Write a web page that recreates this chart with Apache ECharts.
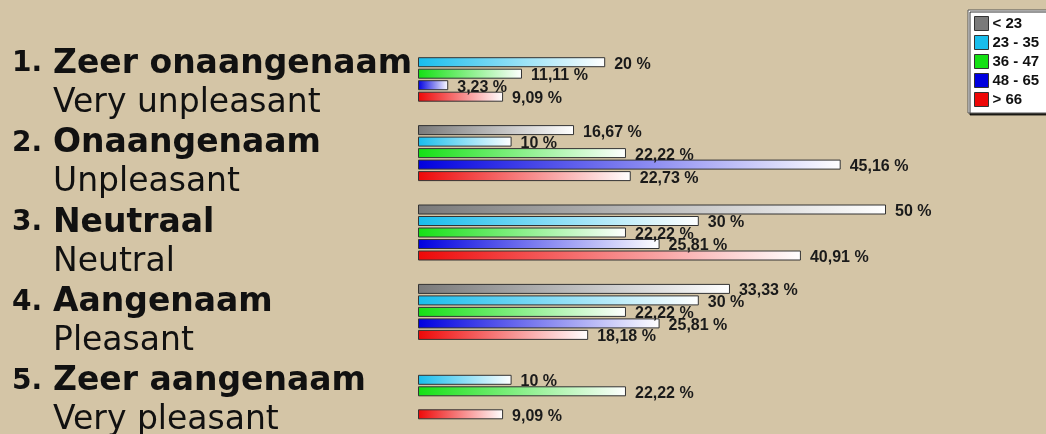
<!DOCTYPE html>
<html>
<head>
<meta charset="utf-8">
<script src="https://cdn.jsdelivr.net/npm/echarts@6/dist/echarts.min.js"></script>
<style>
  html, body { margin: 0; padding: 0; background: #d4c5a6; }
  #chart { width: 1046px; height: 434px; }
</style>
</head>
<body>
<div id="chart"></div>
<script>
// answers (Dutch + English)
var categories = ['Zeer onaangenaam', 'Onaangenaam', 'Neutraal', 'Aangenaam', 'Zeer aangenaam'];
var english = ['Very unpleasant', 'Unpleasant', 'Neutral', 'Pleasant', 'Very pleasant'];

// age groups
var groups = ['< 23', '23 - 35', '36 - 47', '48 - 65', '> 66'];
var colors = ['#7a7a7a', '#18bdec', '#14e014', '#0000e0', '#ee0808'];

// percentages per age group, '-' = no bar
var lt23 = ['-', 16.67, 50, 33.33, '-'];
var g23_35 = [20, 10, 30, 30, 10];
var g36_47 = [11.11, 22.22, 22.22, 22.22, 22.22];
var g48_65 = [3.23, 45.16, 25.81, 25.81, '-'];
var gt66 = [9.09, 22.73, 40.91, 18.18, 9.09];

var seriesData = [lt23, g23_35, g36_47, g48_65, gt66];

var myChart = echarts.init(document.getElementById('chart'));

var fmt = function (v) {
    var s = (Math.round(v * 100) / 100).toString();
    return s.replace('.', ',') + ' %';
};

var series = [];
for (var i = 0; i < groups.length; i++) {
    series.push({
        name: groups[i],
        type: 'bar',
        data: seriesData[i],
        barWidth: 10,
        barGap: '15%',
        itemStyle: {
            color: new echarts.graphic.LinearGradient(0, 0, 1, 0, [
                {offset: 0, color: colors[i]},
                {offset: 1, color: '#ffffff'}
            ]),
            borderColor: '#333',
            borderWidth: 1
        },
        label: {
            show: true,
            position: 'right',
            distance: 9,
            offset: [0, 2],
            color: '#1a1a1a',
            fontFamily: 'Liberation Sans, Arial',
            fontWeight: 'bold',
            fontSize: 16,
            formatter: function (p) { return fmt(p.value); }
        }
    });
}

var option = {
    backgroundColor: '#d4c5a6',
    animation: false,
    grid: {
        left: 418,
        width: 468,
        top: 34,
        height: 397,
        outerBoundsMode: 'none'
    },
    legend: {
        orient: 'vertical',
        left: 968,
        top: 10,
        icon: 'rect',
        itemWidth: 14,
        itemHeight: 14,
        itemGap: 4,
        padding: [6, 30, 6, 6],
        backgroundColor: '#ffffff',
        borderColor: '#555',
        borderWidth: 1,
        shadowColor: 'rgba(0,0,0,0.8)',
        shadowBlur: 0,
        shadowOffsetX: 2,
        shadowOffsetY: 2,
        textStyle: {
            color: '#111',
            fontFamily: 'Liberation Sans, Arial',
            fontWeight: 'bold',
            fontSize: 15,
            padding: [0, 0, 0, -1]
        },
        data: groups.map(function (g, i) {
            return {name: g, itemStyle: {color: colors[i], borderColor: '#333', borderWidth: 1}};
        })
    },
    xAxis: {
        type: 'value',
        min: 0,
        max: 50,
        show: false
    },
    yAxis: {
        type: 'category',
        inverse: true,
        data: categories,
        axisLine: {show: false},
        axisTick: {show: false},
        splitLine: {show: false},
        axisLabel: {
            align: 'left',
            margin: 406,
            padding: [20, 0, 0, 0],
            formatter: function (value, index) {
                return '{n|' + (index + 1) + '.}{b|' + value + '}\n{p| }{e|' + english[index] + '}';
            },
            rich: {
                n: {fontFamily: 'DejaVu Sans', fontWeight: 'bold', fontSize: 28, width: 41, lineHeight: 39, color: '#111'},
                b: {fontFamily: 'DejaVu Sans', fontWeight: 'bold', fontSize: 33, lineHeight: 39, color: '#111'},
                p: {fontSize: 10, width: 41, lineHeight: 39},
                e: {fontFamily: 'DejaVu Sans', fontSize: 33, lineHeight: 39, color: '#111'}
            }
        }
    },
    series: series
};
myChart.setOption(option);
</script>
</body>
</html>
